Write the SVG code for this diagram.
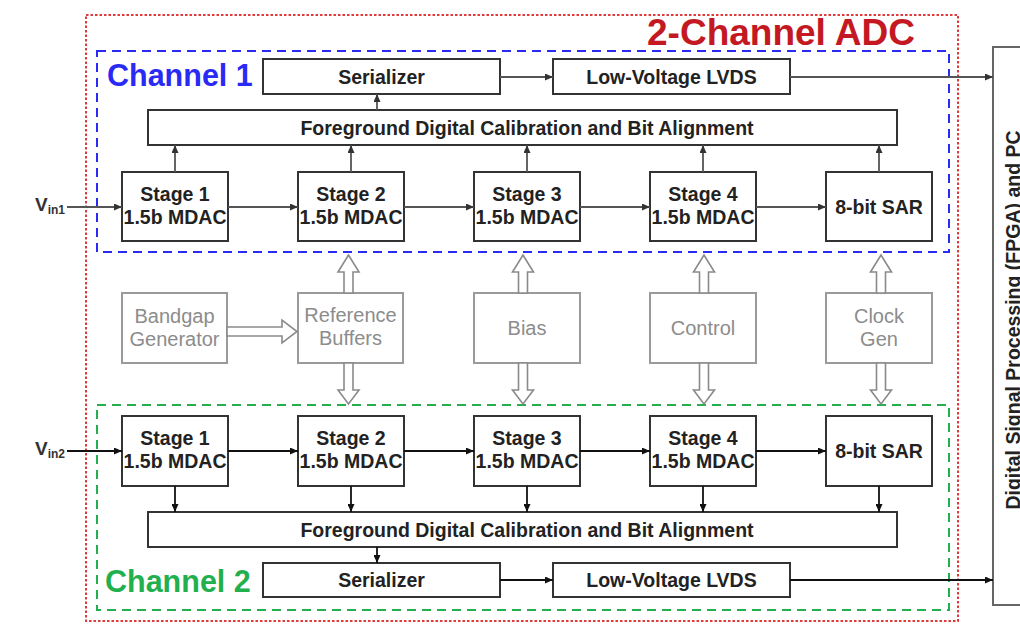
<svg xmlns="http://www.w3.org/2000/svg" width="1020" height="624" viewBox="0 0 1020 624">
  <style>
    text { font-family: "Liberation Sans", Arial, sans-serif; }
    .blk { fill: #fff; stroke: #333; stroke-width: 2; }
    .lbl { font-size: 19.5px; font-weight: bold; fill: #222; text-anchor: middle; }
    .gbox { fill: #fff; stroke: #9a9a9a; stroke-width: 2; }
    .glbl { font-size: 20px; fill: #8c8c8c; text-anchor: middle; }
    .hollow { fill: #fff; stroke: #8a8a8a; stroke-width: 1.6; stroke-linejoin: miter; }
    .w1 { stroke: #555; stroke-width: 1.8; fill: none; marker-end: url(#ah1); }
    .w2 { stroke: #111; stroke-width: 1.8; fill: none; marker-end: url(#ah2); }
    .vin { font-size: 19px; font-weight: bold; fill: #333; }
    .sub { font-size: 12px; font-weight: bold; fill: #333; }
  </style>
  <defs>
    <marker id="ah1" markerUnits="userSpaceOnUse" markerWidth="8" markerHeight="7" refX="8" refY="3.5" orient="auto">
      <path d="M0,0 L8,3.5 L0,7 Z" fill="#333"/>
    </marker>
    <marker id="ah2" markerUnits="userSpaceOnUse" markerWidth="8" markerHeight="7" refX="8" refY="3.5" orient="auto">
      <path d="M0,0 L8,3.5 L0,7 Z" fill="#111"/>
    </marker>
  </defs>

  <rect width="1020" height="624" fill="#fff"/>

  <!-- ADC boundary -->
  <g id="adc">
    <rect x="86" y="15" width="872" height="606" fill="none" stroke="#e03a3a" stroke-width="2" stroke-dasharray="2.5 2"/>
    <text x="781" y="45" font-size="37" font-weight="bold" fill="#c41822" text-anchor="middle">2-Channel ADC</text>
  </g>

  <!-- channel frames -->
  <g id="channel1">
    <rect x="97" y="51" width="852" height="201" fill="none" stroke="#2a2af5" stroke-width="2" stroke-dasharray="9 6"/>
    <text x="107" y="86" font-size="30.5" font-weight="bold" fill="#2a2af5">Channel 1</text>
  </g>
  <g id="channel2">
    <rect x="97" y="405" width="852" height="205" fill="none" stroke="#22b04e" stroke-width="2" stroke-dasharray="9 6"/>
    <text x="105" y="592" font-size="30.5" font-weight="bold" fill="#22b04e">Channel 2</text>
  </g>

  <!-- DSP / PC block -->
  <g id="dsp">
    <rect x="993" y="47" width="40" height="558" fill="#fff" stroke="#666" stroke-width="2"/>
    <text transform="translate(1020,320) rotate(-90)" font-size="19.5" font-weight="bold" fill="#222" text-anchor="middle">Digital Signal Processing (FPGA) and PC</text>
  </g>

  <!-- channel 1 blocks -->
  <g id="ser1"><rect class="blk" x="263" y="59" width="237" height="35"/><text class="lbl" x="381.5" y="83.5">Serializer</text></g>
  <g id="lvds1"><rect class="blk" x="553" y="59" width="237" height="35"/><text class="lbl" x="671.5" y="83.5">Low-Voltage LVDS</text></g>
  <g id="cal1"><rect class="blk" x="148" y="110" width="749" height="35"/><text class="lbl" x="527" y="134.5">Foreground Digital Calibration and Bit Alignment</text></g>
  <g id="c1s1"><rect class="blk" x="122" y="172" width="106" height="69"/><text class="lbl" x="175" y="200.5">Stage 1</text><text class="lbl" x="175" y="224">1.5b MDAC</text></g>
  <g id="c1s2"><rect class="blk" x="298" y="172" width="106" height="69"/><text class="lbl" x="351" y="200.5">Stage 2</text><text class="lbl" x="351" y="224">1.5b MDAC</text></g>
  <g id="c1s3"><rect class="blk" x="474" y="172" width="106" height="69"/><text class="lbl" x="527" y="200.5">Stage 3</text><text class="lbl" x="527" y="224">1.5b MDAC</text></g>
  <g id="c1s4"><rect class="blk" x="650" y="172" width="106" height="69"/><text class="lbl" x="703" y="200.5">Stage 4</text><text class="lbl" x="703" y="224">1.5b MDAC</text></g>
  <g id="c1sar"><rect class="blk" x="826" y="172" width="106" height="69"/><text class="lbl" x="879" y="213.5">8-bit SAR</text></g>

  <!-- shared analog / clock blocks -->
  <g id="bandgap"><rect class="gbox" x="122" y="293" width="105" height="70"/><text class="glbl" x="174.5" y="323">Bandgap</text><text class="glbl" x="174.5" y="346">Generator</text></g>
  <g id="refbuf"><rect class="gbox" x="298" y="293" width="105" height="70"/><text class="glbl" x="350.5" y="322">Reference</text><text class="glbl" x="350.5" y="345">Buffers</text></g>
  <g id="bias"><rect class="gbox" x="474" y="293" width="106" height="70" stroke="#b0b0b0"/><text class="glbl" x="527" y="335">Bias</text></g>
  <g id="control"><rect class="gbox" x="650" y="293" width="106" height="70" stroke="#b0b0b0"/><text class="glbl" x="703" y="335">Control</text></g>
  <g id="clockgen"><rect class="gbox" x="826" y="293" width="106" height="70" stroke="#b0b0b0"/><text class="glbl" x="879" y="323">Clock</text><text class="glbl" x="879" y="346">Gen</text></g>

  <!-- channel 2 blocks -->
  <g id="c2s1"><rect class="blk" x="122" y="416" width="106" height="70"/><text class="lbl" x="175" y="445">Stage 1</text><text class="lbl" x="175" y="468">1.5b MDAC</text></g>
  <g id="c2s2"><rect class="blk" x="298" y="416" width="106" height="70"/><text class="lbl" x="351" y="445">Stage 2</text><text class="lbl" x="351" y="468">1.5b MDAC</text></g>
  <g id="c2s3"><rect class="blk" x="474" y="416" width="106" height="70"/><text class="lbl" x="527" y="445">Stage 3</text><text class="lbl" x="527" y="468">1.5b MDAC</text></g>
  <g id="c2s4"><rect class="blk" x="650" y="416" width="106" height="70"/><text class="lbl" x="703" y="445">Stage 4</text><text class="lbl" x="703" y="468">1.5b MDAC</text></g>
  <g id="c2sar"><rect class="blk" x="826" y="416" width="106" height="70"/><text class="lbl" x="879" y="457.5">8-bit SAR</text></g>
  <g id="cal2"><rect class="blk" x="148" y="512" width="749" height="35"/><text class="lbl" x="527" y="536.5">Foreground Digital Calibration and Bit Alignment</text></g>
  <g id="ser2"><rect class="blk" x="263" y="563" width="237" height="34"/><text class="lbl" x="381.5" y="587">Serializer</text></g>
  <g id="lvds2"><rect class="blk" x="553" y="563" width="237" height="34"/><text class="lbl" x="671.5" y="587">Low-Voltage LVDS</text></g>

  <!-- inputs -->
  <g id="vin1"><text class="vin" x="35" y="211">V<tspan class="sub" dy="3">in1</tspan></text></g>
  <g id="vin2"><text class="vin" x="35" y="455">V<tspan class="sub" dy="3">in2</tspan></text></g>

  <!-- connectors -->
  <g id="connectors">
    <!-- channel 1 signal path -->
    <line class="w1" x1="67" y1="207" x2="122" y2="207"/>
    <line class="w1" x1="228" y1="207" x2="298" y2="207"/>
    <line class="w1" x1="404" y1="207" x2="474" y2="207"/>
    <line class="w1" x1="580" y1="207" x2="650" y2="207"/>
    <line class="w1" x1="756" y1="207" x2="826" y2="207"/>
    <line class="w1" x1="175" y1="172" x2="175" y2="145"/>
    <line class="w1" x1="351" y1="172" x2="351" y2="145"/>
    <line class="w1" x1="527" y1="172" x2="527" y2="145"/>
    <line class="w1" x1="703" y1="172" x2="703" y2="145"/>
    <line class="w1" x1="879" y1="172" x2="879" y2="145"/>
    <line class="w1" x1="377" y1="110" x2="377" y2="94"/>
    <line class="w1" x1="500" y1="77" x2="553" y2="77"/>
    <line class="w1" x1="790" y1="77" x2="993" y2="77"/>

    <!-- channel 2 signal path -->
    <line class="w2" x1="67" y1="451" x2="122" y2="451"/>
    <line class="w2" x1="228" y1="451" x2="298" y2="451"/>
    <line class="w2" x1="404" y1="451" x2="474" y2="451"/>
    <line class="w2" x1="580" y1="451" x2="650" y2="451"/>
    <line class="w2" x1="756" y1="451" x2="826" y2="451"/>
    <line class="w2" x1="175" y1="486" x2="175" y2="512"/>
    <line class="w2" x1="351" y1="486" x2="351" y2="512"/>
    <line class="w2" x1="527" y1="486" x2="527" y2="512"/>
    <line class="w2" x1="703" y1="486" x2="703" y2="512"/>
    <line class="w2" x1="879" y1="486" x2="879" y2="512"/>
    <line class="w2" x1="377" y1="547" x2="377" y2="563"/>
    <line class="w2" x1="500" y1="580" x2="553" y2="580"/>
    <line class="w2" x1="790" y1="580" x2="993" y2="580"/>

    <!-- hollow bus arrows from shared blocks -->
    <path class="hollow" d="M227,327 H282 V320 L297,331.5 L282,343 V336 H227 Z"/>
    <path class="hollow" d="M344,293 V272 H338 L348.5,255 L359,272 H353 V293 Z"/>
    <path class="hollow" d="M344,363 V390 H338 L348.5,404 L359,390 H353 V363 Z"/>
    <path class="hollow" d="M518.5,293 V272 H512.5 L523,255 L533.5,272 H527.5 V293 Z"/>
    <path class="hollow" d="M518.5,363 V390 H512.5 L523,404 L533.5,390 H527.5 V363 Z"/>
    <path class="hollow" d="M699.5,293 V272 H693.5 L704,255 L714.5,272 H708.5 V293 Z"/>
    <path class="hollow" d="M699.5,363 V390 H693.5 L704,404 L714.5,390 H708.5 V363 Z"/>
    <path class="hollow" d="M876.5,293 V272 H870.5 L881,255 L891.5,272 H885.5 V293 Z"/>
    <path class="hollow" d="M876.5,363 V390 H870.5 L881,404 L891.5,390 H885.5 V363 Z"/>
  </g>
</svg>
